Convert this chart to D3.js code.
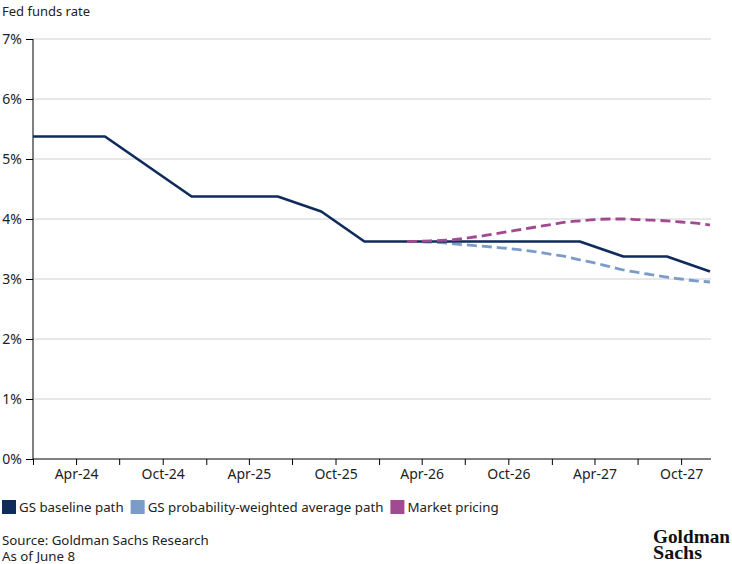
<!DOCTYPE html>
<meta charset="utf-8">
<style>
body { margin: 0; background: #fff; }
text { font-family: "Noto Sans", sans-serif; fill: #222; }
.grid line { stroke: #d0d0d0; stroke-width: 1px; }
.axis path, .axis line { stroke: #000; }
.axis text { font-size: 14px; fill: #222; font-family: "Noto Sans", sans-serif; }
.line_baseline { fill: none; stroke: #0f2b5b; stroke-width: 2.7px; stroke-linejoin: round; }
.line_prob { fill: none; stroke: #7b9cc8; stroke-width: 2.8px; stroke-dasharray: 10,5; }
.line_market { fill: none; stroke: #a24a91; stroke-width: 2.8px; stroke-dasharray: 10,5; }
</style>
<body>
<script src="https://cdn.jsdelivr.net/npm/d3@7"></script>
<script>

// GS baseline path: the months where the path bends, and its level there
var baselineMonths = ["2024-01", "2024-06", "2024-12", "2025-06", "2025-09", "2025-12",
                      "2027-03", "2027-06", "2027-09", "2027-12"];
var baselineRates  = [5.375, 5.375, 4.375, 4.375, 4.125, 3.625,
                      3.625, 3.375, 3.375, 3.125];

// monthly forecast paths, Mar-26 to Dec-27
var forecastMonths = ["2026-03", "2026-04", "2026-05", "2026-06", "2026-07", "2026-08",
                      "2026-09", "2026-10", "2026-11", "2026-12", "2027-01", "2027-02",
                      "2027-03", "2027-04", "2027-05", "2027-06", "2027-07", "2027-08",
                      "2027-09", "2027-10", "2027-11", "2027-12"];
var probRates   = [3.625, 3.62, 3.61, 3.59, 3.57, 3.55, 3.53, 3.51, 3.48, 3.45, 3.41, 3.37,
                   3.32, 3.27, 3.21, 3.15, 3.11, 3.07, 3.03, 3.00, 2.97, 2.95];
var marketRates = [3.625, 3.63, 3.64, 3.65, 3.68, 3.71, 3.75, 3.79, 3.83, 3.87, 3.91, 3.95,
                   3.97, 3.99, 4.00, 4.00, 3.99, 3.98, 3.97, 3.95, 3.93, 3.90];

var yTicks = [0, 1, 2, 3, 4, 5, 6, 7];
var seriesNames  = ["GS baseline path", "GS probability-weighted average path", "Market pricing"];
var seriesColors = ["#0f2b5b", "#7b9cc8", "#a24a91"];

var parseMonth = d3.timeParse("%Y-%m");

var width = 732, height = 564;
var plot = {left: 33, right: 710, top: 39, bottom: 459};

var x = d3.scaleTime()
    .domain([parseMonth("2024-01"), parseMonth("2027-12")])
    .range([plot.left, plot.right]);
var y = d3.scaleLinear().domain([0, 7]).range([plot.bottom, plot.top]);

var svg = d3.select("body").append("svg")
    .attr("width", width)
    .attr("height", height);

// title
svg.append("text")
    .attr("x", 2).attr("y", 16)
    .style("font-size", "13px")
    .text("Fed funds rate");

// gridlines
svg.append("g")
    .attr("class", "grid")
  .selectAll("line")
  .data(yTicks.filter(function(d) { return d > 0; }))
  .enter().append("line")
    .attr("x1", plot.left).attr("x2", plot.right + 1)
    .attr("y1", function(d) { return y(d); })
    .attr("y2", function(d) { return y(d); });

// y axis
svg.append("g")
    .attr("class", "axis")
    .attr("transform", "translate(" + plot.left + ",0)")
    .call(d3.axisLeft(y).tickValues(yTicks).tickSize(7).tickPadding(4)
      .tickFormat(function(d) { return d + "%"; }))
    .call(function(g) { g.select(".domain").attr("d", "M0," + plot.top + "V" + plot.bottom); });

// x axis - quarterly ticks, labels only on Apr / Oct
var fmt = d3.timeFormat("%b-%y");
svg.append("g")
    .attr("class", "axis")
    .attr("transform", "translate(0," + plot.bottom + ")")
    .call(d3.axisBottom(x).ticks(d3.timeMonth.every(3)).tickSize(6).tickPadding(4)
      .tickFormat(function(d) {
        var m = d.getMonth();
        return (m === 3 || m === 9) ? fmt(d) : "";
      }))
    .call(function(g) { g.select(".domain").attr("d", "M" + plot.left + ",0H" + (plot.right + 1)); });

// lines
var baseline = baselineMonths.map(function(m, i) { return {t: parseMonth(m), v: baselineRates[i]}; });
var prob = forecastMonths.map(function(m, i) { return {t: parseMonth(m), v: probRates[i]}; });
var market = forecastMonths.map(function(m, i) { return {t: parseMonth(m), v: marketRates[i]}; });

var straight = d3.line()
    .x(function(d) { return x(d.t); })
    .y(function(d) { return y(d.v); });
var smooth = d3.line()
    .curve(d3.curveMonotoneX)
    .x(function(d) { return x(d.t); })
    .y(function(d) { return y(d.v); });

svg.append("path").attr("class", "line_prob").attr("d", smooth(prob));
svg.append("path").attr("class", "line_baseline").attr("d", straight(baseline));
svg.append("path").attr("class", "line_market").attr("d", smooth(market));

// legend
var lx = 2;
seriesNames.forEach(function(name, i) {
  svg.append("rect")
      .attr("x", lx).attr("y", 500)
      .attr("width", 14).attr("height", 14)
      .attr("fill", seriesColors[i]);
  var t = svg.append("text")
      .attr("x", lx + 17).attr("y", 512)
      .style("font-size", "13.3px")
      .text(name);
  lx += 17 + t.node().getComputedTextLength() + 7;
});

// source
svg.append("text").attr("x", 2).attr("y", 545).style("font-size", "13.3px")
    .text("Source: Goldman Sachs Research");
svg.append("text").attr("x", 2).attr("y", 561).style("font-size", "13.3px")
    .text("As of June 8");

// logo
svg.append("text")
    .attr("x", 653).attr("y", 543)
    .attr("textLength", 77).attr("lengthAdjust", "spacingAndGlyphs")
    .style("font-family", "'Liberation Serif', serif")
    .style("font-weight", "bold")
    .style("font-size", "19px")
    .style("fill", "#111")
    .text("Goldman");
svg.append("text")
    .attr("x", 653).attr("y", 559)
    .attr("textLength", 49).attr("lengthAdjust", "spacingAndGlyphs")
    .style("font-family", "'Liberation Serif', serif")
    .style("font-weight", "bold")
    .style("font-size", "19px")
    .style("fill", "#111")
    .text("Sachs");

</script>
</body>
